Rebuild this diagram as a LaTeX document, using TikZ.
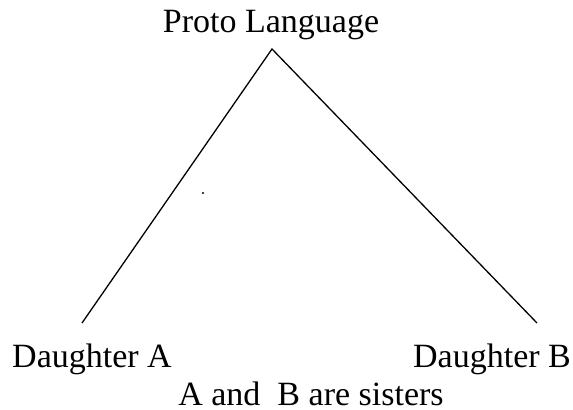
\documentclass[tikz,border=0pt]{standalone}
\usepackage{fontspec}
\setmainfont{Liberation Serif}
\usetikzlibrary{positioning}

\begin{document}
\begin{tikzpicture}[x=0.5pt,y=-0.5pt]
\tikzstyle{lang}=[inner sep=0pt,anchor=base,font=\fontsize{17}{20}\selectfont]
\tikzstyle{branch}=[line width=0.65pt,black]
\useasboundingbox (0,0) rectangle (573,409);
\node[lang] (proto) at (271,32) {Proto Language};
\node[lang] (daughterA) at (92,367) {Daughter A};
\node[lang] (daughterB) at (492,367) {Daughter B};
\node[lang] (sisters) at (311,405) {A and\ \ B are sisters};
\coordinate (apex) at (272,49);
\coordinate (endA) at (82,323);
\coordinate (endB) at (537,323);
\draw[branch] (endA)--(apex)--(endB);
\fill (203,193) circle (0.6pt);
\end{tikzpicture}
\end{document}
